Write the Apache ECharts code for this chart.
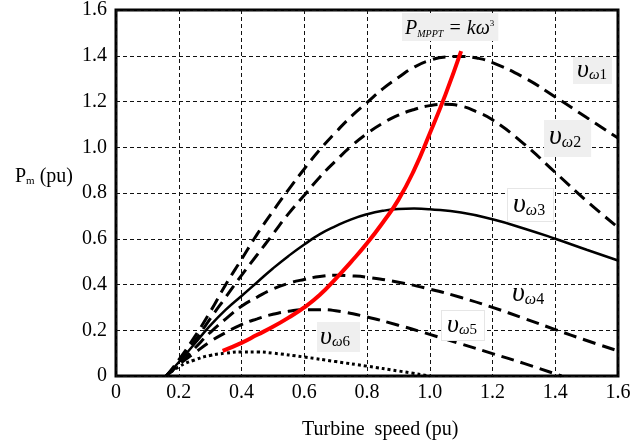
<!DOCTYPE html>
<html><head><meta charset="utf-8">
<script src="https://cdn.jsdelivr.net/npm/echarts@6/dist/echarts.min.js"></script>
<style>html,body{margin:0;padding:0;background:#fff}#c{width:639px;height:442px}</style>
</head><body><div id="c"></div>
<script>
// ---- data (turbine speed pu, mechanical power pu) ----
const xTickLabels = ['0','0.2','0.4','0.6','0.8','1.0','1.2','1.4','1.6'];
const yTickLabels = ['0','0.2','0.4','0.6','0.8','1.0','1.2','1.4','1.6'];

const vw1 = [[0.16,0],[0.2,0.07],[0.25,0.17],[0.3,0.28],[0.35,0.4],[0.4,0.51],[0.45,0.62],[0.5,0.72],[0.55,0.815],[0.6,0.905],[0.65,0.99],[0.7,1.065],[0.75,1.135],[0.8,1.195],[0.85,1.255],[0.9,1.305],[0.95,1.35],[1.0,1.38],[1.05,1.395],[1.1,1.397],[1.15,1.39],[1.2,1.37],[1.3,1.305],[1.4,1.22],[1.5,1.13],[1.6,1.04]];
const vw2 = [[0.16,0],[0.2,0.06],[0.25,0.15],[0.3,0.25],[0.35,0.345],[0.4,0.44],[0.45,0.53],[0.5,0.62],[0.55,0.71],[0.6,0.79],[0.65,0.87],[0.7,0.94],[0.75,1.005],[0.8,1.06],[0.85,1.105],[0.9,1.14],[0.95,1.165],[1.0,1.182],[1.05,1.188],[1.1,1.18],[1.15,1.155],[1.2,1.12],[1.3,1.015],[1.4,0.89],[1.5,0.765],[1.6,0.65]];
const vw3 = [[0.16,0],[0.2,0.06],[0.25,0.14],[0.3,0.22],[0.35,0.29],[0.4,0.35],[0.45,0.41],[0.5,0.47],[0.55,0.525],[0.6,0.575],[0.65,0.62],[0.7,0.655],[0.75,0.685],[0.8,0.707],[0.85,0.722],[0.9,0.73],[0.95,0.732],[1.0,0.729],[1.1,0.715],[1.2,0.685],[1.3,0.645],[1.4,0.6],[1.5,0.552],[1.6,0.505]];
const vw4 = [[0.16,0],[0.2,0.05],[0.25,0.12],[0.3,0.19],[0.35,0.25],[0.4,0.305],[0.45,0.345],[0.5,0.38],[0.55,0.405],[0.6,0.422],[0.65,0.435],[0.7,0.44],[0.75,0.438],[0.8,0.432],[0.9,0.41],[1.0,0.38],[1.1,0.343],[1.2,0.3],[1.3,0.252],[1.4,0.203],[1.5,0.155],[1.6,0.11]];
const vw5 = [[0.16,0],[0.2,0.05],[0.25,0.1],[0.3,0.15],[0.35,0.19],[0.4,0.225],[0.45,0.25],[0.5,0.27],[0.55,0.283],[0.6,0.29],[0.65,0.29],[0.7,0.285],[0.8,0.258],[0.9,0.222],[1.0,0.182],[1.1,0.14],[1.2,0.098],[1.3,0.055],[1.42,0]];
const vw6 = [[0.16,0],[0.2,0.04],[0.25,0.07],[0.3,0.09],[0.35,0.1],[0.4,0.105],[0.45,0.105],[0.5,0.1],[0.6,0.083],[0.7,0.063],[0.8,0.043],[0.9,0.022],[1.0,0]];
const mppt = [[0.34,0.11],[0.4,0.145],[0.45,0.18],[0.5,0.215],[0.55,0.255],[0.6,0.3],[0.65,0.355],[0.7,0.425],[0.75,0.5],[0.8,0.58],[0.85,0.67],[0.9,0.77],[0.95,0.9],[1.0,1.06],[1.05,1.23],[1.1,1.42]];

// ---- chart ----
const SERIF = '"Liberation Serif","Times New Roman",serif';
const chart = echarts.init(document.getElementById('c'), null, {renderer: 'canvas'});

function curve(name, data, lineStyle, z) {
  return {name, type: 'line', data, smooth: 0.5, symbol: 'none', silent: true,
          lineStyle: Object.assign({color: '#000', width: 3}, lineStyle), z: z || 3};
}
function axis(labels, margin) {
  return {
    type: 'value', min: 0, max: 1.6, interval: 0.2,
    axisLine: {show: false}, axisTick: {show: false},
    axisLabel: {margin, color: '#000', fontFamily: SERIF, fontSize: 20,
                formatter: (v, i) => labels[Math.round(v / 0.2)]},
    splitLine: {show: true, lineStyle: {color: '#111', width: 1, type: [4, 3]}}
  };
}
function vRich(vS, sS, L) {
  return {
    v: {fontFamily: SERIF, fontStyle: 'italic', fontSize: vS, lineHeight: vS, verticalAlign: 'top', padding: [0, 0, L - vS, 0], fill: '#000'},
    w: {fontFamily: SERIF, fontStyle: 'italic', fontSize: sS, lineHeight: sS, verticalAlign: 'bottom', fill: '#000'},
    d: {fontFamily: SERIF, fontSize: sS, lineHeight: sS, verticalAlign: 'bottom', fill: '#000'}
  };
}
function vLabel(n, left, top, vS, sS, L, padding, bg, border) {
  return {type: 'text', left, top, z: 20,
    style: {text: '{v|υ}{w|ω}{d|' + n + '}', rich: vRich(vS, sS, L), padding,
            backgroundColor: bg || 'transparent', borderColor: border || 'transparent', borderWidth: border ? 1 : 0}};
}

const option = {
  animation: false,
  backgroundColor: '#fff',
  grid: {left: 116, right: 21, top: 10, bottom: 66, show: true, borderColor: '#000', borderWidth: 3, backgroundColor: 'transparent'},
  xAxis: axis(xTickLabels, 7),
  yAxis: axis(yTickLabels, 9),
  series: [
    curve('vω1', vw1, {type: [13, 7]}),
    curve('vω2', vw2, {type: [13, 7]}),
    curve('vω3', vw3, {type: 'solid', width: 2.5}),
    curve('vω4', vw4, {type: [13, 7]}),
    curve('vω5', vw5, {type: [13, 7]}),
    curve('vω6', vw6, {type: [3, 3], width: 3}),
    curve('P_MPPT', mppt, {color: '#ff0000', width: 4, type: 'solid'}, 5)
  ],
  graphic: [
    {type: 'text', left: 15, top: 167, z: 20, style: {text: '{a|P}{b|m}{a| (pu)}', rich: {
      a: {fontFamily: SERIF, fontSize: 20, lineHeight: 20, fill: '#000'},
      b: {fontFamily: SERIF, fontSize: 11, lineHeight: 11, verticalAlign: 'bottom', fill: '#000'}}}},
    {type: 'text', left: 302, top: 420, z: 20, style: {text: 'Turbine  speed (pu)', fontFamily: SERIF, fontSize: 20, fill: '#000'}},
    {type: 'text', left: 402, top: 13, z: 20, style: {text: '{p|P}{m|MPPT}{e| = kω}{t|3}', padding: [6, 4, 2, 3], backgroundColor: '#efefef', rich: {
      p: {fontFamily: SERIF, fontStyle: 'italic', fontSize: 20, lineHeight: 20, verticalAlign: 'top', padding: [0, 0, 4, 0], fill: '#000'},
      m: {fontFamily: SERIF, fontStyle: 'italic', fontSize: 10, lineHeight: 10, verticalAlign: 'bottom', fill: '#000'},
      e: {fontFamily: SERIF, fontStyle: 'italic', fontSize: 20, lineHeight: 20, verticalAlign: 'top', padding: [0, 0, 4, 0], fill: '#000'},
      t: {fontFamily: SERIF, fontSize: 9, lineHeight: 9, verticalAlign: 'top', fill: '#000'}}}},
    vLabel(1, 573, 57, 26, 15, 34, [0, 5, 1, 4], '#efefef'),
    vLabel(2, 544, 120, 28, 16, 33, [3, 10, 6, 5], '#efefef'),
    vLabel(3, 507, 188, 28, 16, 33, [2, 8, 2, 5], '#ffffff', '#e6e6e6'),
    vLabel(4, 512, 280, 28, 16, 31, [0, 0, 0, 0]),
    vLabel(5, 441, 310, 26, 15, 33, [1, 7, 2, 5], '#ffffff', '#e6e6e6'),
    vLabel(6, 317, 322, 26, 15, 32, [2, 10, 2, 3], '#efefef')
  ]
};
chart.setOption(option);
</script></body></html>
